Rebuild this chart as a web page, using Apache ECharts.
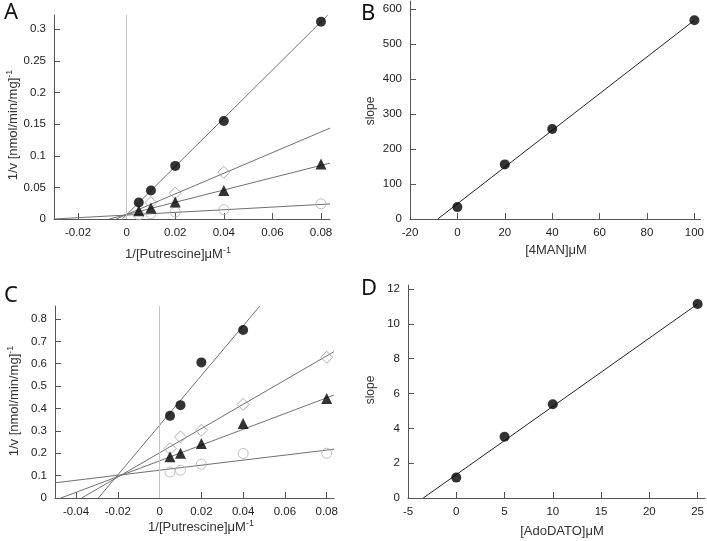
<!DOCTYPE html>
<html>
<head>
<meta charset="utf-8">
<script src="https://cdn.jsdelivr.net/npm/echarts@6/dist/echarts.min.js"></script>
<style>html,body{margin:0;padding:0;background:#fff}#c{width:707px;height:541px}</style>
</head>
<body>
<div id="c"></div>
<script>
// ---------- Panel A ----------
const aX = [0.005, 0.01, 0.02, 0.04, 0.08];
const aFilled = [0.026, 0.045, 0.084, 0.155, 0.312];
const aDiamond = [null, 0.026, 0.041, 0.074, null];
const aTri = [0.013, 0.0174, 0.027, 0.045, 0.0868];
const aOpen = [0.0068, 0.0084, 0.011, 0.0147, 0.024];
const aLineFilled = [[-0.0018, 0], [0.0828, 0.3225]];
const aLineDiamond = [[-0.0043, 0], [0.0837, 0.1437]];
const aLineTri = [[-0.0072, 0], [0.0837, 0.0884]];
const aLineOpen = [[-0.0299, 0.0], [0.0837, 0.0238]];
const aXTicks = [-0.02, 0, 0.02, 0.04, 0.06, 0.08];
const aYTicks = [0, 0.05, 0.1, 0.15, 0.2, 0.25, 0.3];

// ---------- Panel B ----------
const bX = [0, 20, 40, 100];
const bY = [34, 156, 257, 568];
const bLine = [[-8.3, 0], [100, 568]];
const bXTicks = [-20, 0, 20, 40, 60, 80, 100];
const bYTicks = [0, 100, 200, 300, 400, 500, 600];

// ---------- Panel C ----------
const cX = [0.005, 0.01, 0.02, 0.04, 0.08];
const cFilled = [0.367, 0.415, 0.606, 0.751, null];
const cDiamond = [0.221, 0.273, 0.303, 0.418, 0.629];
const cTri = [0.184, 0.2, 0.244, 0.333, 0.445];
const cOpen = [0.116, 0.124, 0.151, 0.199, 0.2];
const cLineFilled = [[-0.0293, 0], [0.048, 0.858]];
const cLineDiamond = [[-0.0373, 0], [0.0835, 0.654]];
const cLineTri = [[-0.0472, 0], [0.0835, 0.46]];
const cLineOpen = [[-0.05, 0.068], [0.0835, 0.218]];
const cXTicks = [-0.04, -0.02, 0, 0.02, 0.04, 0.06, 0.08];
const cYTicks = [0, 0.1, 0.2, 0.3, 0.4, 0.5, 0.6, 0.7, 0.8];

// ---------- Panel D ----------
const dX = [0, 5, 10, 25];
const dY = [1.17, 3.52, 5.38, 11.14];
const dLine = [[-3.42, 0], [25, 11.14]];
const dXTicks = [-5, 0, 5, 10, 15, 20, 25];
const dYTicks = [0, 2, 4, 6, 8, 10, 12];

// ---------- helpers ----------
const FONT = 'Liberation Sans';
function pts(xs, ys) { return xs.map((x, i) => [x, ys[i]]).filter(p => p[1] != null); }
function ax(gi, min, max, ticks) {
  return {
    type: 'value', gridIndex: gi, min: min, max: max,
    axisLine: { onZero: false, lineStyle: { color: '#555', width: 1 } },
    axisTick: { inside: true, length: 6, customValues: ticks, lineStyle: { color: '#555' } },
    axisLabel: { customValues: ticks, color: '#222', fontSize: 11.5, fontFamily: FONT, margin: 8, formatter: v => String(+v.toFixed(4)) },
    splitLine: { show: false }
  };
}
function lineS(gi, data, color, extra) {
  return Object.assign({
    type: 'line', xAxisIndex: gi, yAxisIndex: gi, data: data, symbol: 'none', silent: true,
    lineStyle: { color: color, width: 1 }, z: 2, animation: false
  }, extra || {});
}
const MK = {
  filled: { symbol: 'circle', symbolSize: 10, itemStyle: { color: '#000' } },
  diamond: { symbol: 'diamond', symbolSize: 12, itemStyle: { color: 'rgba(255,255,255,0)', borderColor: '#9a9a9a', borderWidth: 1 } },
  tri: { symbol: 'triangle', symbolSize: 11, itemStyle: { color: '#000' } },
  open: { symbol: 'circle', symbolSize: 10, itemStyle: { color: 'rgba(255,255,255,0)', borderColor: '#b0b0b0', borderWidth: 1 } }
};
function scat(gi, data, kind) {
  return Object.assign({ type: 'scatter', xAxisIndex: gi, yAxisIndex: gi, data: data, z: 5, silent: true, animation: false }, MK[kind]);
}
const zeroLine = {
  silent: true, symbol: ['none', 'none'], label: { show: false },
  lineStyle: { color: '#c4c4c4', type: 'solid', width: 1 }, data: [{ xAxis: 0 }], animation: false
};

const LC = '#707070';
const series = [
  lineS(0, aLineOpen, LC, { markLine: zeroLine, z: 1 }),
  lineS(0, aLineFilled, LC), lineS(0, aLineDiamond, LC), lineS(0, aLineTri, LC),
  scat(0, pts(aX, aOpen), 'open'), scat(0, pts(aX, aDiamond), 'diamond'),
  scat(0, pts(aX, aTri), 'tri'), scat(0, pts(aX, aFilled), 'filled'),

  lineS(1, bLine, '#222'),
  scat(1, pts(bX, bY), 'filled'),

  lineS(2, cLineOpen, LC, { markLine: zeroLine, z: 1 }),
  lineS(2, cLineFilled, LC), lineS(2, cLineDiamond, LC), lineS(2, cLineTri, LC),
  scat(2, pts(cX, cOpen), 'open'), scat(2, pts(cX, cDiamond), 'diamond'),
  scat(2, pts(cX, cTri), 'tri'), scat(2, pts(cX, cFilled), 'filled'),

  lineS(3, dLine, '#222'),
  scat(3, pts(dX, dY), 'filled')
];

const supRich = {
  sup: { fontSize: 9, fontFamily: FONT, fill: '#333', verticalAlign: 'top', lineHeight: 10 }
};
function nameText(x, y, text, rotate, size) {
  return {
    type: 'text', x: x, y: y, rotation: rotate ? Math.PI / 2 : 0, silent: true,
    style: {
      text: text, x: 0, y: 0, align: 'center', verticalAlign: 'middle',
      font: (size || 13) + 'px "Liberation Sans"', fill: '#333', lineHeight: 16, rich: supRich
    }
  };
}
function letter(x, y, t) {
  return { type: 'text', x: x, y: y, silent: true, style: { text: t, font: '22px "Noto Sans"', fill: '#111', align: 'left', verticalAlign: 'top' } };
}

const option = {
  animation: false,
  backgroundColor: '#fff',
  grid: [
    { left: 54, top: 15, width: 276, height: 204 },
    { left: 410, top: 1, width: 293, height: 218 },
    { left: 55, top: 306, width: 279, height: 192 },
    { left: 408, top: 285, width: 298, height: 213 }
  ],
  xAxis: [
    ax(0, -0.0299, 0.0837, aXTicks),
    ax(1, -20, 102.6, bXTicks),
    ax(2, -0.05007, 0.0835, cXTicks),
    ax(3, -5, 25.79, dXTicks)
  ],
  yAxis: [
    ax(0, 0, 0.3226, aYTicks),
    ax(1, 0, 622.9, bYTicks),
    ax(2, 0, 0.858, cYTicks),
    ax(3, 0, 12.23, dYTicks)
  ],
  series: series,
  graphic: [
    letter(4, 2, 'A'), letter(361, 3, 'B'), letter(4, 285, 'C'), letter(361, 278, 'D'),
    nameText(178, 254, '1/[Putrescine]μM{sup|-1}', false),
    nameText(201, 527, '1/[Putrescine]μM{sup|-1}', false),
    nameText(556, 250, '[4MAN]μM', false),
    nameText(562, 531, '[AdoDATO]μM', false),
    nameText(13, 125, '1/v [nmol/min/mg]{sup|-1}', true),
    nameText(14, 401, '1/v [nmol/min/mg]{sup|-1}', true),
    nameText(371, 111, 'slope', true, 12),
    nameText(371, 390, 'slope', true, 12)
  ]
};
const chart = echarts.init(document.getElementById('c'), null, { renderer: 'canvas' });
chart.setOption(option);
</script>
</body>
</html>
